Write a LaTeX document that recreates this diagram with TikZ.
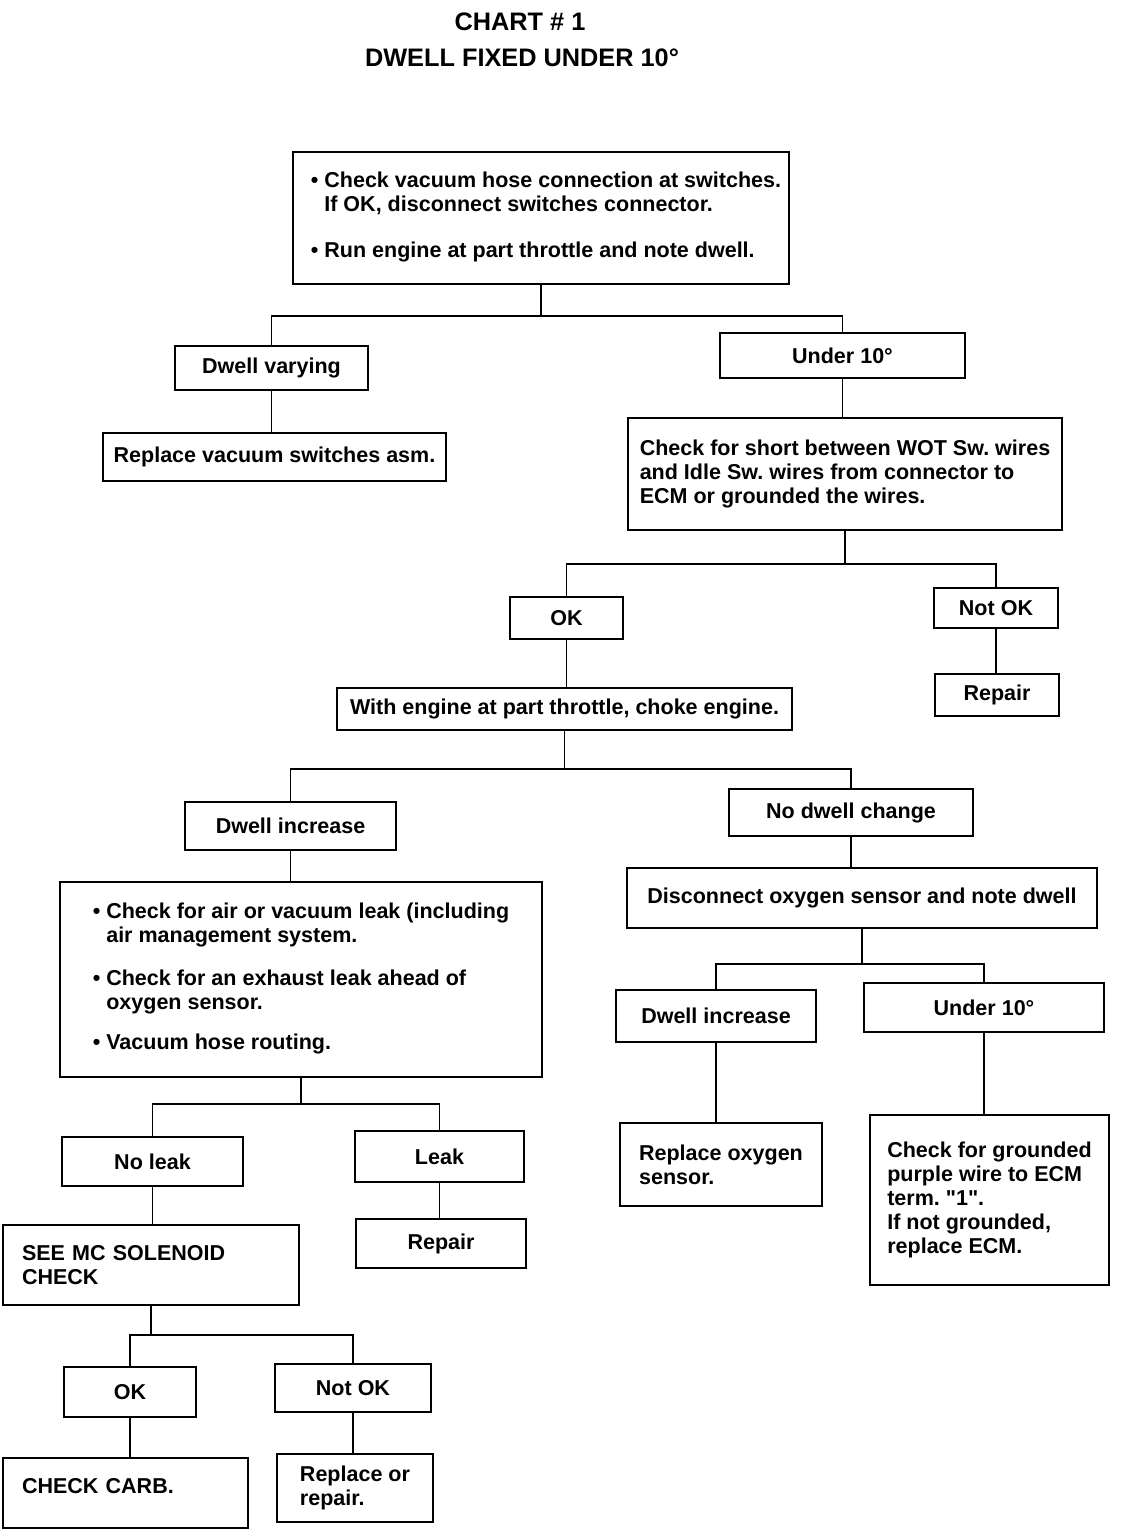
\documentclass[tikz,border=0pt]{standalone}
\usepackage{fontspec}
\setmainfont{Liberation Sans}
\frenchspacing
\newdimen\pxu \pxu=0.025cm
\tikzset{
  box/.style={draw, line width=1.6pt, inner sep=0pt, align=center,
    font=\bfseries\fontsize{15.3}{17.1}\selectfont},
  link/.style={line width=1.4pt},
  head/.style={font=\bfseries\fontsize{18}{20}\selectfont},
}
\begin{document}
\begin{tikzpicture}[x=0.025cm, y=-0.025cm]
	\useasboundingbox (0,0) rectangle (1136,1534);
	\node[head] (title) at (520,22) {CHART \# 1};
	\node[head] (subtitle) at (522,58) {DWELL FIXED UNDER 10°};
	% first check
	\node[box, minimum width=496\pxu, minimum height=132\pxu] (start) at (541,218)
		{\begin{tabular}{@{\hspace{10\pxu}}l@{ }l@{}}
		\textbullet & Check vacuum hose connection at switches.\\
		 & If OK, disconnect switches connector.\\[15.6pt]
		\textbullet & Run engine at part throttle and note dwell.
		\end{tabular}};
	\node[box, minimum width=193\pxu, minimum height=44\pxu] (varying) at (271.5,368) {Dwell varying};
	\node[box, minimum width=343\pxu, minimum height=48\pxu] (replsw) at (274.5,457) {Replace vacuum switches asm.};
	\node[box, minimum width=245\pxu, minimum height=45\pxu] (under) at (842.5,355.5) {Under 10°};
	\node[box, align=left, minimum width=434\pxu, minimum height=112\pxu] (short) at (845,474)
		{Check for short between WOT Sw. wires\\and Idle Sw. wires from connector to\\ECM or grounded the wires.};
	\node[box, minimum width=113\pxu, minimum height=42\pxu] (ok) at (566.5,618) {OK};
	\node[box, minimum width=124\pxu, minimum height=40\pxu] (notok) at (996,608) {Not OK};
	\node[box, minimum width=124\pxu, minimum height=42\pxu] (repair) at (997,695) {Repair};
	\node[box, minimum width=455\pxu, minimum height=42\pxu] (choke) at (564.5,709) {With engine at part throttle, choke engine.};
	% left branch
	\node[box, minimum width=211\pxu, minimum height=48\pxu] (incr) at (290.5,826) {Dwell increase};
	\node[box, minimum width=482\pxu, minimum height=195\pxu] (leaks) at (301,979.5)
		{\begin{tabular}{@{}l@{ }l@{}}
		\textbullet & Check for air or vacuum leak (including\\
		 & air management system.\\[13.5pt]
		\textbullet & Check for an exhaust leak ahead of\\
		 & oxygen sensor.\\[11.4pt]
		\textbullet & Vacuum hose routing.
		\end{tabular}};
	\node[box, minimum width=181\pxu, minimum height=49\pxu] (noleak) at (152.5,1161.5) {No leak};
	\node[box, minimum width=169\pxu, minimum height=51\pxu] (leak) at (439.5,1156.5) {Leak};
	\node[box, align=left, text width=258\pxu, minimum width=296\pxu, minimum height=80\pxu] (solenoid) at (151,1265)
		{SEE MC SOLENOID\\CHECK};
	\node[box, minimum width=170\pxu, minimum height=49\pxu] (repairb) at (441,1243.5) {Repair};
	\node[box, minimum width=132\pxu, minimum height=50\pxu] (okb) at (130,1392) {OK};
	\node[box, minimum width=156\pxu, minimum height=48\pxu] (notokb) at (353,1388) {Not OK};
	\node[box, align=left, text width=207\pxu, minimum width=245\pxu, minimum height=70\pxu] (carb) at (125.5,1493)
		{\raisebox{0pt}[0pt][0pt]{CHECK CARB.}};
	\node[box, align=left, minimum width=156\pxu, minimum height=68\pxu] (replrep) at (355,1488)
		{Replace or\\repair.};
	% right branch
	\node[box, minimum width=244\pxu, minimum height=47\pxu] (nochange) at (851,812.5) {No dwell change};
	\node[box, minimum width=470\pxu, minimum height=60\pxu] (oxy) at (862,898) {Disconnect oxygen sensor and note dwell};
	\node[box, minimum width=200\pxu, minimum height=52\pxu] (incrb) at (716,1016) {Dwell increase};
	\node[box, minimum width=240\pxu, minimum height=49\pxu] (underb) at (984,1007.5) {Under 10°};
	\node[box, align=left, minimum width=202\pxu, minimum height=83\pxu] (replox) at (721,1164.5)
		{Replace oxygen\\sensor.};
	\node[box, align=left, minimum width=239\pxu, minimum height=170\pxu] (ground) at (989.5,1200)
		{Check for grounded\\purple wire to ECM\\term. \textquotedbl 1\textquotedbl.\\If not grounded,\\replace ECM.};
	% connectors
	\draw[link] (start.south) -- ++(0,31) coordinate (j1);
	\draw[link] (varying.north) |- (j1) -| (under.north);
	\draw[link] (varying.south) -- (varying.south |- replsw.north);
	\draw[link] (under.south) -- (under.south |- short.north);
	\draw[link] (short.south) -- ++(0,33) coordinate (j2);
	\draw[link] (ok.north) |- (j2) -| (notok.north);
	\draw[link] (notok.south) -- (notok.south |- repair.north);
	\draw[link] (ok.south) -- (ok.south |- choke.north);
	\draw[link] (choke.south) -- ++(0,38) coordinate (j3);
	\draw[link] (incr.north) |- (j3) -| (nochange.north);
	\draw[link] (incr.south) -- (incr.south |- leaks.north);
	\draw[link] (leaks.south) -- ++(0,26) coordinate (j4);
	\draw[link] (noleak.north) |- (j4) -| (leak.north);
	\draw[link] (noleak.south) -- (noleak.south |- solenoid.north);
	\draw[link] (leak.south) -- (leak.south |- repairb.north);
	\draw[link] (solenoid.south) -- ++(0,29) coordinate (j5);
	\draw[link] (okb.north) |- (j5) -| (notokb.north);
	\draw[link] (okb.south) -- (okb.south |- carb.north);
	\draw[link] (notokb.south) -- (notokb.south |- replrep.north);
	\draw[link] (nochange.south) -- (nochange.south |- oxy.north);
	\draw[link] (oxy.south) -- ++(0,35) coordinate (j6);
	\draw[link] (incrb.north) |- (j6) -| (underb.north);
	\draw[link] (incrb.south) -- (incrb.south |- replox.north);
	\draw[link] (underb.south) -- (underb.south |- ground.north);
\end{tikzpicture}
\end{document}
